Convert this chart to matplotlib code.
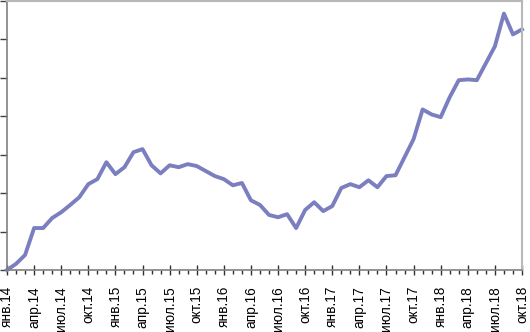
import matplotlib
matplotlib.use("Agg")
import matplotlib.pyplot as plt
from matplotlib.ticker import MultipleLocator, FixedLocator

months = ["янв", "фев", "мар", "апр", "май", "июн", "июл", "авг", "сен", "окт", "ноя", "дек"]
years = [14, 15, 16, 17, 18]
values = [0.0, 1.6, 3.9, 10.9, 10.9, 13.5, 15.0, 16.9, 18.9, 22.3, 23.6, 28.0,
          24.9, 26.7, 30.6, 31.4, 27.2, 25.1, 27.2, 26.7, 27.5, 27.0, 25.7, 24.4,
          23.6, 22.0, 22.6, 18.1, 16.9, 14.3, 13.7, 14.5, 10.9, 15.6, 17.6, 15.3,
          16.6, 21.3, 22.3, 21.5, 23.3, 21.5, 24.4, 24.6, 29.3, 34.0, 41.7, 40.4,
          39.7, 44.9, 49.3, 49.5, 49.3, 53.7, 58.1, 66.6, 61.2, 62.5]

month_labels = [f"{months[i % 12]}.{years[i // 12]}" for i in range(len(values))]
x = list(range(len(values)))
major_idx = x[::3]
major_labels = [month_labels[i] for i in major_idx]

plt.rcParams['font.family'] = ['Liberation Sans', 'DejaVu Sans']

fig = plt.figure(figsize=(5.30, 3.32), dpi=100)
ax = fig.add_axes([7/530, (332-270)/332, 515/530, 269.5/332])
ax.plot(x, values, color="#7b7fbf", linewidth=2.8, solid_joinstyle="round", clip_on=False)

ax.set_xlim(0, len(values) - 1)
ax.set_ylim(0, 70)
ax.yaxis.set_major_locator(MultipleLocator(10))
ax.set_yticklabels([])
ax.xaxis.set_major_locator(FixedLocator(major_idx))
ax.xaxis.set_minor_locator(FixedLocator(x))
ax.set_xticklabels(major_labels, rotation=90, fontsize=9.8, color="#000000")
ax.tick_params(axis="x", which="major", direction="inout", length=7, width=1, color="#303030", pad=8)
ax.tick_params(axis="x", which="minor", direction="out", length=3, width=1, color="#303030")
ax.tick_params(axis="y", which="major", direction="out", length=5, width=1, color="#404040")
for s in ["left", "bottom"]:
    ax.spines[s].set_color("#808080")
    ax.spines[s].set_linewidth(1.2)
for s in ["top", "right"]:
    ax.spines[s].set_color("#b8b8b8")
    ax.spines[s].set_linewidth(1.5)

fig.savefig("out.png", dpi=100)
